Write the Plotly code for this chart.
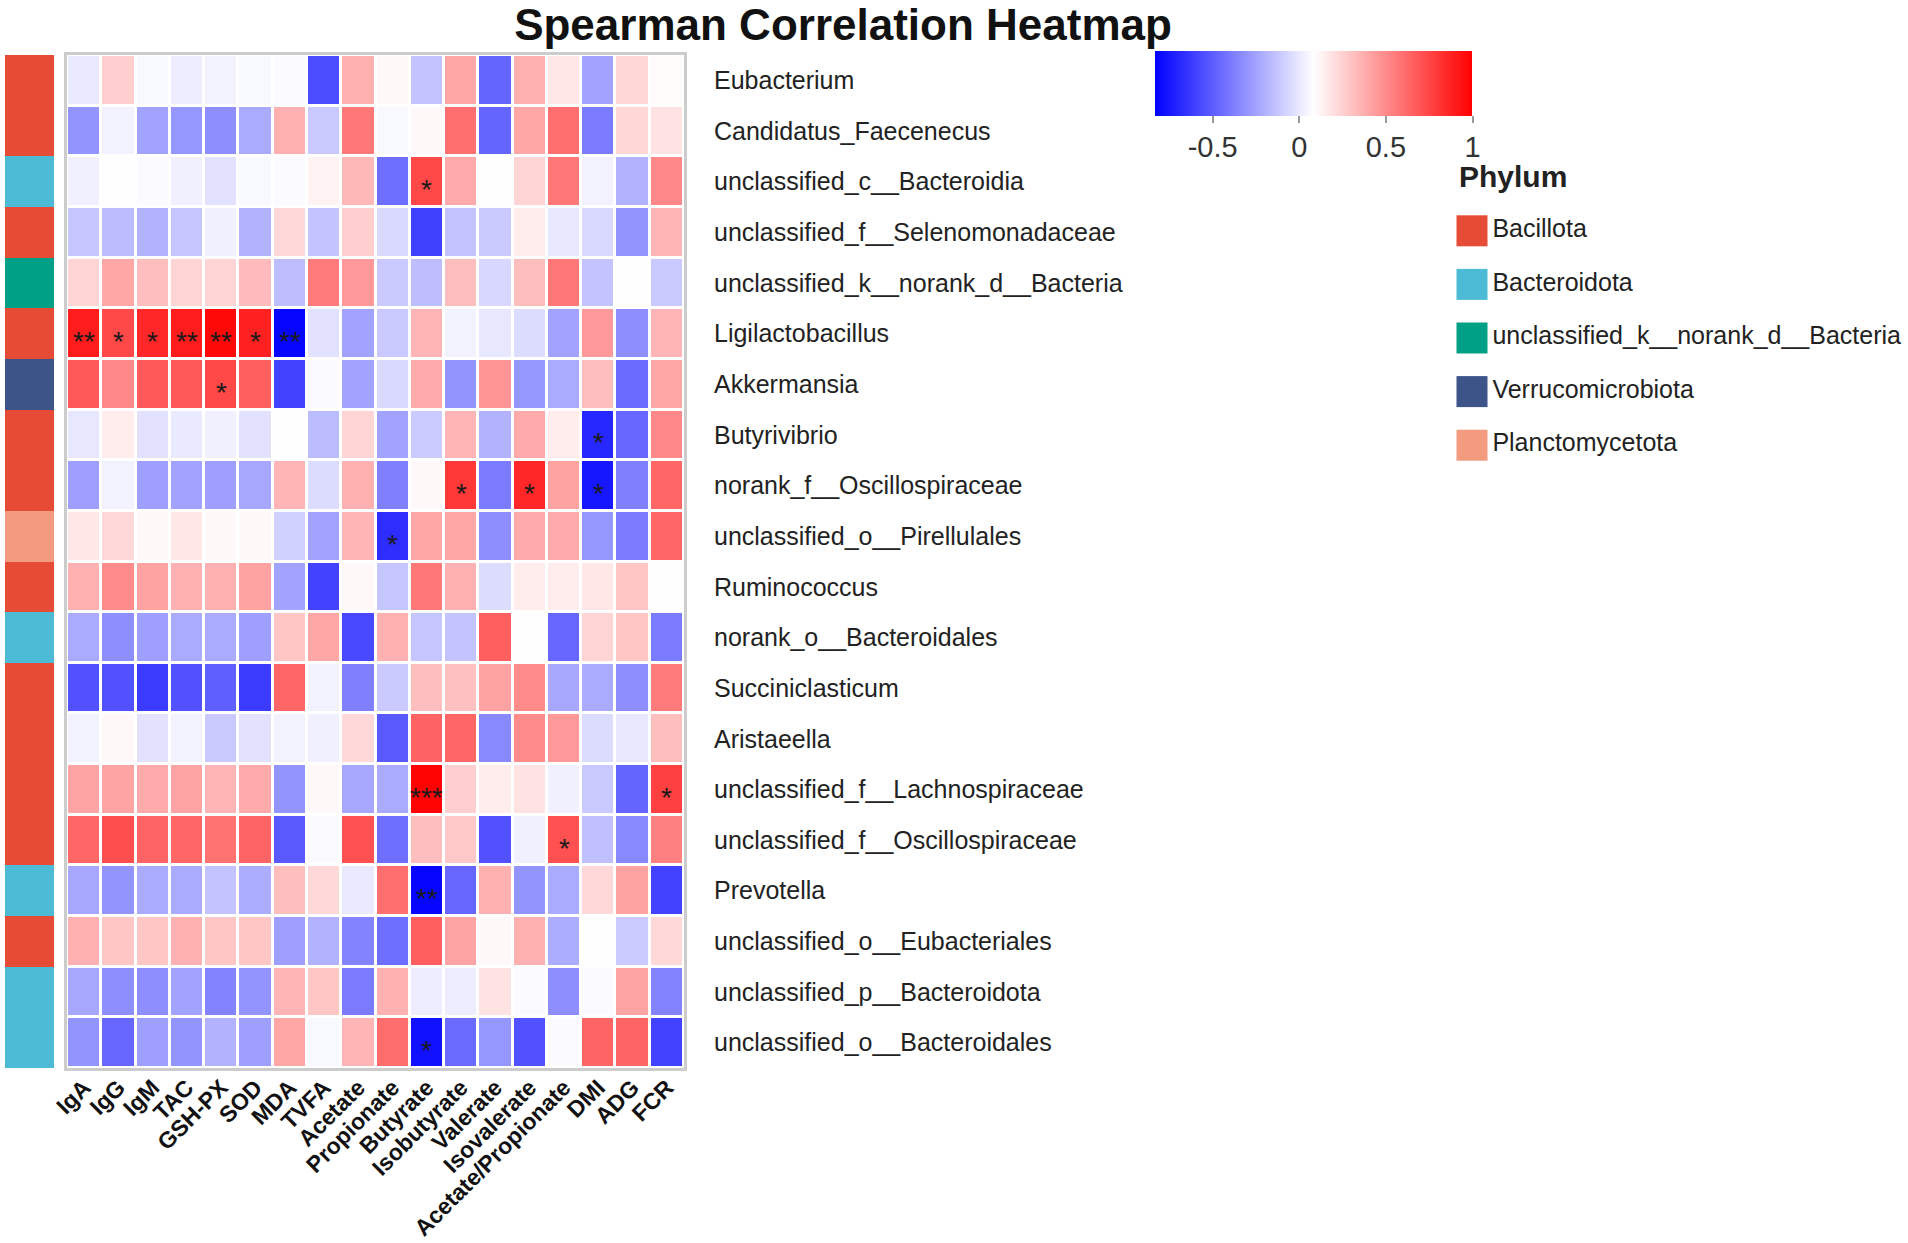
import plotly.graph_objects as go

# ---------------- data ----------------
variables = ["IgA", "IgG", "IgM", "TAC", "GSH-PX", "SOD", "MDA", "TVFA", "Acetate",
             "Propionate", "Butyrate", "Isobutyrate", "Valerate", "Isovalerate",
             "Acetate/Propionate", "DMI", "ADG", "FCR"]

genera = ["Eubacterium", "Candidatus_Faecenecus", "unclassified_c__Bacteroidia",
          "unclassified_f__Selenomonadaceae", "unclassified_k__norank_d__Bacteria",
          "Ligilactobacillus", "Akkermansia", "Butyrivibrio", "norank_f__Oscillospiraceae",
          "unclassified_o__Pirellulales", "Ruminococcus", "norank_o__Bacteroidales",
          "Succiniclasticum", "Aristaeella", "unclassified_f__Lachnospiraceae",
          "unclassified_f__Oscillospiraceae", "Prevotella", "unclassified_o__Eubacteriales",
          "unclassified_p__Bacteroidota", "unclassified_o__Bacteroidales"]

genus_phylum = ["Bacillota", "Bacillota", "Bacteroidota", "Bacillota",
                "unclassified_k__norank_d__Bacteria", "Bacillota", "Verrucomicrobiota",
                "Bacillota", "Bacillota", "Planctomycetota", "Bacillota", "Bacteroidota",
                "Bacillota", "Bacillota", "Bacillota", "Bacillota", "Bacteroidota",
                "Bacillota", "Bacteroidota", "Bacteroidota"]

phyla = ["Bacillota", "Bacteroidota", "unclassified_k__norank_d__Bacteria",
         "Verrucomicrobiota", "Planctomycetota"]
phylum_colors = ["#E64B35", "#4DBBD5", "#00A087", "#3C5488", "#F39B7F"]

rho = [
    [0.01, 0.26, 0.06, 0.02, 0.04, 0.06, 0.07, -0.56, 0.37, 0.11, -0.13, 0.40, -0.47, 0.37, 0.17, -0.25, 0.23, 0.10],
    [-0.30, 0.04, -0.25, -0.29, -0.32, -0.22, 0.37, -0.11, 0.57, 0.06, 0.11, 0.60, -0.47, 0.40, 0.60, -0.39, 0.23, 0.19],
    [0.03, 0.09, 0.07, 0.03, -0.02, 0.06, 0.07, 0.13, 0.34, -0.43, 0.74, 0.39, 0.09, 0.24, 0.57, 0.04, -0.19, 0.51],
    [-0.12, -0.16, -0.19, -0.12, 0.03, -0.19, 0.22, -0.13, 0.26, -0.05, -0.60, -0.13, -0.11, 0.15, 0.00, -0.05, -0.30, 0.35],
    [0.24, 0.40, 0.32, 0.24, 0.24, 0.33, -0.15, 0.56, 0.45, -0.11, -0.15, 0.32, -0.06, 0.32, 0.57, -0.13, 0.09, -0.11],
    [0.90, 0.74, 0.86, 0.90, 0.97, 0.88, -0.81, -0.02, -0.25, -0.11, 0.35, 0.04, 0.00, -0.04, -0.25, 0.45, -0.32, 0.35],
    [0.68, 0.51, 0.68, 0.68, 0.74, 0.66, -0.59, 0.07, -0.25, -0.05, 0.39, -0.30, 0.47, -0.29, -0.22, 0.32, -0.45, 0.40],
    [0.00, 0.15, -0.02, 0.01, 0.03, -0.02, 0.09, -0.16, 0.24, -0.25, -0.10, 0.35, -0.19, 0.39, 0.15, -0.69, -0.46, 0.51],
    [-0.26, 0.04, -0.26, -0.25, -0.26, -0.23, 0.35, -0.04, 0.37, -0.37, 0.11, 0.80, -0.39, 0.86, 0.42, -0.75, -0.37, 0.63],
    [0.17, 0.22, 0.11, 0.17, 0.11, 0.11, -0.08, -0.25, 0.35, -0.67, 0.40, 0.40, -0.32, 0.39, 0.39, -0.29, -0.39, 0.63],
    [0.37, 0.50, 0.42, 0.37, 0.37, 0.42, -0.25, -0.59, 0.11, -0.12, 0.57, 0.37, -0.04, 0.15, 0.15, 0.17, 0.29, 0.09],
    [-0.22, -0.32, -0.26, -0.22, -0.22, -0.26, 0.29, 0.40, -0.57, 0.37, -0.12, -0.13, 0.66, 0.09, -0.46, 0.24, 0.29, -0.39],
    [-0.54, -0.54, -0.62, -0.54, -0.49, -0.62, 0.63, 0.04, -0.37, -0.11, 0.32, 0.31, 0.42, 0.50, -0.23, -0.22, -0.32, 0.56],
    [0.04, 0.11, -0.02, 0.04, -0.11, -0.02, 0.04, 0.03, 0.22, -0.51, 0.65, 0.63, -0.34, 0.50, 0.45, -0.04, 0.00, 0.32],
    [0.41, 0.41, 0.39, 0.41, 0.35, 0.39, -0.30, 0.11, -0.23, -0.22, 0.99, 0.26, 0.15, 0.19, 0.03, -0.11, -0.47, 0.77],
    [0.63, 0.72, 0.64, 0.63, 0.59, 0.64, -0.51, 0.07, 0.71, -0.43, 0.32, 0.28, -0.54, 0.03, 0.71, -0.14, -0.34, 0.54],
    [-0.23, -0.30, -0.22, -0.22, -0.13, -0.21, 0.32, 0.22, 0.01, 0.60, -0.81, -0.46, 0.37, -0.30, -0.22, 0.22, 0.42, -0.59],
    [0.37, 0.29, 0.29, 0.37, 0.29, 0.29, -0.26, -0.19, -0.36, -0.43, 0.66, 0.41, 0.11, 0.37, -0.21, 0.09, -0.10, 0.22],
    [-0.23, -0.32, -0.32, -0.25, -0.36, -0.30, 0.35, 0.29, -0.39, 0.37, 0.02, 0.02, 0.19, 0.07, -0.32, 0.07, 0.41, -0.36],
    [-0.30, -0.46, -0.26, -0.30, -0.19, -0.26, 0.40, 0.06, 0.35, 0.61, -0.77, -0.45, -0.29, -0.54, 0.07, 0.64, 0.64, -0.59],
]

sig_genus = ["unclassified_c__Bacteroidia",
             "Ligilactobacillus", "Ligilactobacillus", "Ligilactobacillus", "Ligilactobacillus",
             "Ligilactobacillus", "Ligilactobacillus", "Ligilactobacillus",
             "Akkermansia", "Butyrivibrio",
             "norank_f__Oscillospiraceae", "norank_f__Oscillospiraceae", "norank_f__Oscillospiraceae",
             "unclassified_o__Pirellulales",
             "unclassified_f__Lachnospiraceae", "unclassified_f__Lachnospiraceae",
             "unclassified_f__Oscillospiraceae", "Prevotella", "unclassified_o__Bacteroidales"]
sig_var = ["Butyrate",
           "IgA", "IgG", "IgM", "TAC", "GSH-PX", "SOD", "MDA",
           "GSH-PX", "DMI",
           "Isobutyrate", "Isovalerate", "DMI",
           "Propionate",
           "Butyrate", "FCR",
           "Acetate/Propionate", "Butyrate", "Butyrate"]
sig_mark = ["*",
            "**", "*", "*", "**", "**", "*", "**",
            "*", "*",
            "*", "*", "*",
            "*",
            "***", "*",
            "*", "**", "*"]

colorbar_ticks = [-0.5, 0, 0.5, 1]

# ---------------- layout constants ----------------
W, H = 1908, 1243
FONT = "Liberation Sans, Arial, Helvetica, sans-serif"
GRID = "#CCCCCC"

def px_x(p):
    return p / W

def px_y(p):
    return 1 - p / H

y_dom = [px_y(1068), px_y(55)]

fig = go.Figure()

# main correlation heatmap
fig.add_trace(go.Heatmap(
    z=rho, x=variables, y=genera,
    xaxis="x", yaxis="y",
    colorscale=[[0, "#0000FF"], [0.5, "#FFFFFF"], [1, "#FF0000"]],
    zmin=-0.83, zmax=1.0,
    xgap=3, ygap=3,
    hoverongaps=False,
    colorbar=dict(
        orientation="h",
        x=px_x(1314), xanchor="center",
        y=px_y(51), yanchor="top",
        len=317, lenmode="pixels",
        thickness=65, thicknessmode="pixels",
        outlinewidth=0, xpad=0, ypad=0,
        ticks="outside", ticklen=7, tickwidth=2, tickcolor="#999999",
        tickvals=colorbar_ticks, ticktext=[str(v) for v in colorbar_ticks],
        tickfont=dict(family=FONT, size=29, color="#333333"),
    ),
))

# phylum annotation strip
phylum_code = [[phyla.index(p)] for p in genus_phylum]
n = len(phyla)
strip_scale = []
for i, c in enumerate(phylum_colors):
    strip_scale.append([i / n, c])
    strip_scale.append([(i + 1) / n, c])
fig.add_trace(go.Heatmap(
    z=phylum_code, x=["Phylum"], y=genera,
    xaxis="x2", yaxis="y",
    colorscale=strip_scale, zmin=-0.5, zmax=n - 0.5,
    showscale=False, hoverinfo="skip",
))

# phylum legend (manual, square swatches)
fig.add_trace(go.Scatter(
    x=[0] * len(phyla), y=phyla,
    xaxis="x3", yaxis="y3",
    mode="markers+text",
    marker=dict(symbol="square", size=31, color=phylum_colors, line=dict(width=0)),
    text=phyla, textposition="middle right",
    textfont=dict(family=FONT, size=25, color="#222222"),
    cliponaxis=False, showlegend=False, hoverinfo="skip",
))

annotations = []
for g, v, m in zip(sig_genus, sig_var, sig_mark):
    annotations.append(dict(
        x=v, y=g, xref="x", yref="y", text=m, showarrow=False,
        yshift=-8, font=dict(family=FONT, size=28, color="#1a1a1a"),
    ))
annotations.append(dict(
    x=px_x(1457), y=px_y(176), xref="paper", yref="paper",
    xanchor="left", yanchor="middle", text="<b>Phylum</b>", showarrow=False,
    font=dict(family=FONT, size=30, color="#222222"),
))

fig.update_layout(
    width=W, height=H,
    margin=dict(l=0, r=0, t=0, b=0, autoexpand=False),
    paper_bgcolor="white", plot_bgcolor="white",
    title=dict(text="<b>Spearman Correlation Heatmap</b>",
               x=px_x(843), xanchor="center", y=px_y(25), yanchor="middle",
               font=dict(family=FONT, size=44, color="#111111"), automargin=False),
    font=dict(family=FONT),
    annotations=annotations,
    showlegend=False,
    xaxis=dict(domain=[px_x(67), px_x(684)], anchor="y", automargin=False,
               tickangle=-45, ticks="", side="bottom",
               tickfont=dict(family=FONT, size=23, color="#111111", weight="bold"),
               showline=True, mirror=True, linewidth=3, linecolor=GRID,
               showgrid=False, zeroline=False, ticklabelstandoff=-6),
    yaxis=dict(domain=y_dom, anchor="x", side="right", automargin=False,
               autorange="reversed", ticks="",
               tickfont=dict(family=FONT, size=25, color="#222222"),
               showline=True, mirror=True, linewidth=3, linecolor=GRID,
               showgrid=False, zeroline=False, ticklabelstandoff=22),
    xaxis2=dict(domain=[px_x(5), px_x(54)], anchor="y", visible=False),
    xaxis3=dict(domain=[px_x(1457), px_x(1487)], anchor="y3", range=[-0.5, 0.5], visible=False),
    yaxis3=dict(domain=[px_y(472), px_y(204)], anchor="x3",
                range=[len(phyla) - 0.5, -0.5], visible=False),
)

fig.write_html("out.html", config={"displayModeBar": False},
               post_script="document.body.style.margin='0px';")
